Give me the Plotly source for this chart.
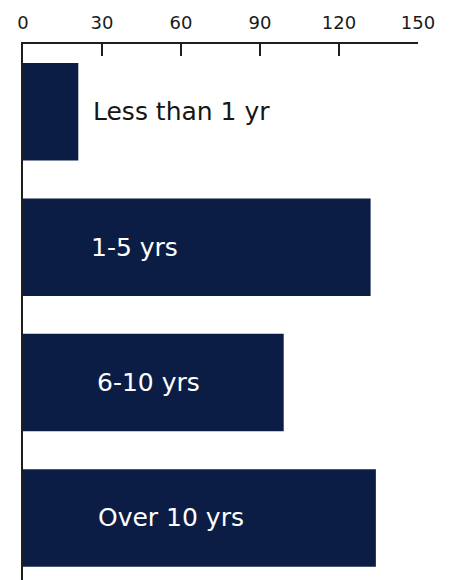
import plotly.graph_objects as go

# Tenure groups and their counts
categories = ["Less than 1 yr", "1-5 yrs", "6-10 yrs", "Over 10 yrs"]
counts = [21, 132, 99, 134]
tick_values = [0, 30, 60, 90, 120, 150]

bar_color = "#0b1d45"
axis_color = "#1e1e1e"
font_family = "DejaVu Sans, sans-serif"

idx = list(range(len(categories)))

fig = go.Figure(
    go.Bar(
        x=counts,
        y=idx,
        orientation="h",
        width=0.72,
        marker=dict(color=bar_color, line=dict(width=0)),
        hoverinfo="skip",
    )
)

# Category labels: inside the bar where it is long enough, otherwise just past its end
label_x = [25.8, 25.0, 27.3, 27.7]
for i, (cat, val) in enumerate(zip(categories, counts)):
    inside = val > 60
    fig.add_annotation(
        x=label_x[i], y=i, text=cat, showarrow=False,
        xanchor="left", yanchor="middle",
        font=dict(family=font_family, size=25,
                  color="white" if inside else "#161616"),
    )

fig.update_layout(
    width=449, height=580,
    margin=dict(l=23, r=31, t=44, b=0),
    paper_bgcolor="white", plot_bgcolor="white",
    showlegend=False,
    xaxis=dict(
        side="top", range=[0, 150], tickvals=tick_values,
        showgrid=False, zeroline=False,
        showline=True, linecolor=axis_color, linewidth=2,
        ticks="inside", ticklen=12, tickwidth=2, tickcolor=axis_color,
        ticklabelstandoff=6,
        tickfont=dict(family=font_family, size=18, color="#1a1a1a"),
        fixedrange=True,
    ),
    yaxis=dict(
        range=[3.458, -0.5], showticklabels=False, showgrid=False,
        zeroline=False, showline=True, linecolor=axis_color, linewidth=2,
        ticks="", fixedrange=True,
    ),
)

fig.write_html("out.html")
